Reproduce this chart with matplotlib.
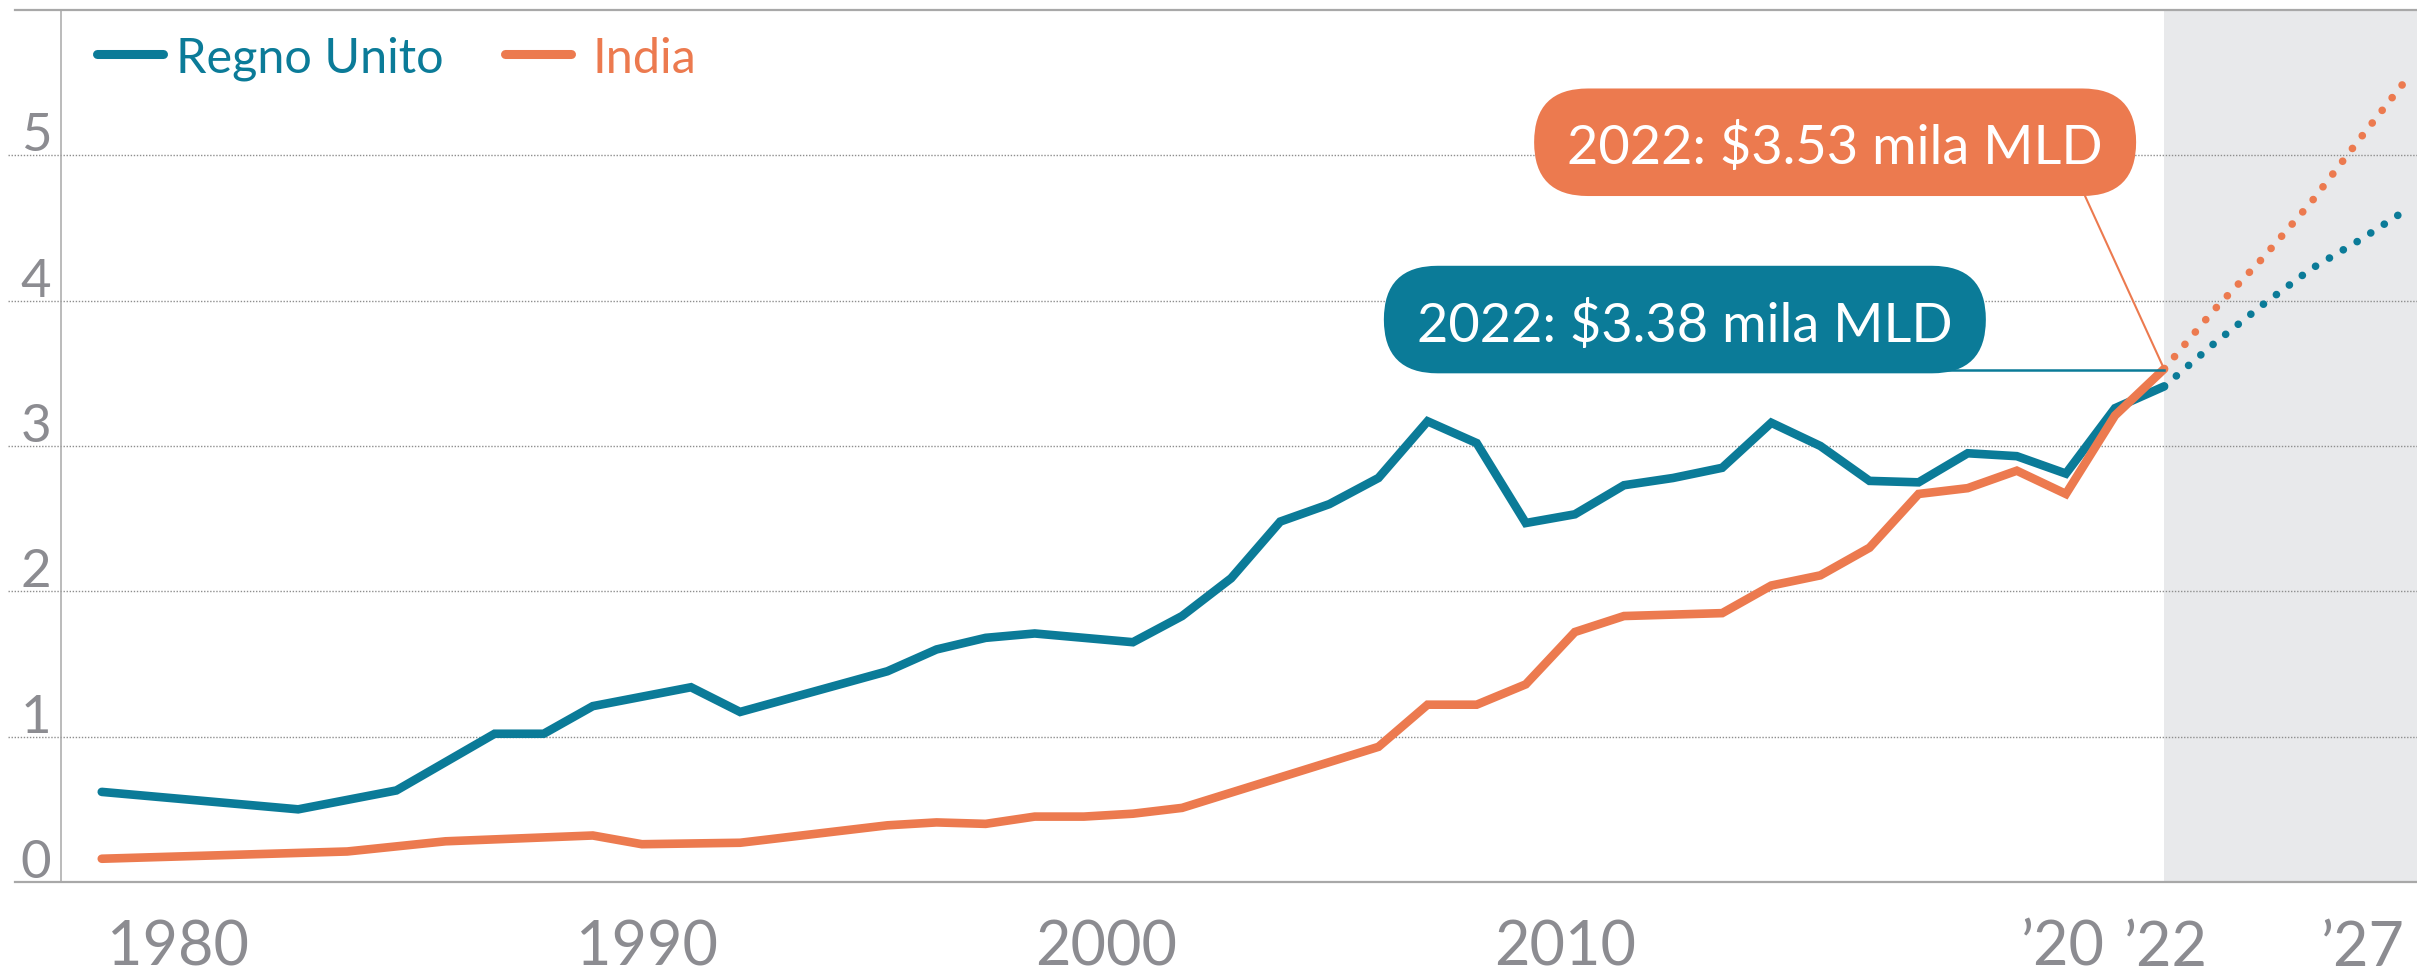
import matplotlib
matplotlib.use("Agg")
import matplotlib.pyplot as plt
import matplotlib.transforms as mtransforms
from matplotlib.patches import FancyBboxPatch
from matplotlib.lines import Line2D

plt.rcParams['font.family'] = ['Lato', 'DejaVu Sans']

# GDP, migliaia di miliardi di dollari (lettura dal grafico)
uk_years = [1980, 1984, 1986, 1988, 1989, 1990, 1992, 1993, 1996, 1997, 1998, 1999,
            2001, 2002, 2003, 2004, 2005, 2006, 2007, 2008, 2009, 2010, 2011, 2012,
            2013, 2014, 2015, 2016, 2017, 2018, 2019, 2020, 2021, 2022]
uk_gdp = [0.62, 0.50, 0.63, 1.02, 1.02, 1.21, 1.34, 1.17, 1.45, 1.60, 1.68, 1.71,
          1.65, 1.83, 2.09, 2.48, 2.60, 2.78, 3.17, 3.02, 2.47, 2.53, 2.73, 2.78,
          2.85, 3.16, 3.00, 2.76, 2.75, 2.95, 2.93, 2.81, 3.26, 3.41]

india_years = [1980, 1985, 1987, 1990, 1991, 1993, 1996, 1997, 1998, 1999, 2000, 2001,
               2002, 2006, 2007, 2008, 2009, 2010, 2011, 2013, 2014, 2015, 2016, 2017,
               2018, 2019, 2020, 2021, 2022]
india_gdp = [0.16, 0.21, 0.28, 0.32, 0.26, 0.27, 0.39, 0.41, 0.40, 0.45, 0.45, 0.47,
             0.51, 0.93, 1.22, 1.22, 1.36, 1.72, 1.83, 1.85, 2.04, 2.11, 2.30, 2.67,
             2.71, 2.83, 2.67, 3.21, 3.53]

# previsioni
fc_years = [2022, 2023, 2024, 2025, 2026, 2027]
uk_fc = [3.41, 3.70, 3.97, 4.22, 4.42, 4.64]
india_fc = [3.53, 3.93, 4.29, 4.68, 5.12, 5.55]

tick_years = [1980, 1990, 2000, 2010, 2020, 2022, 2027]
tick_labels = ['1980', '1990', '2000', '2010', '\u201920', '\u201922', '\u201927']
tick_shift = [1.55, 1.1, 0.46, -0.2, -0.06, 0.04, -0.95]

uk_label = '2022: $3.38 mila MLD'
india_label = '2022: $3.53 mila MLD'

TEAL = '#0b7b98'
ORANGE = '#ec7a4f'
GREY = '#8c8c91'
LINEGREY = '#a8a8a8'

W, H = 2417, 979
fig = plt.figure(figsize=(W / 100, H / 100), dpi=100)
ax = fig.add_axes([61 / W, (H - 883) / H, (W - 61) / W, (883 - 11) / H])
ax.set_xlim(1979.17, 2027.15)
ax.set_ylim(0, 6)
for s in ax.spines.values():
    s.set_visible(False)
ax.set_xticks([])
ax.set_yticks([])

# area previsioni
ax.axvspan(2022, 2030, color='#e8e9eb', zorder=0, lw=0)

blend = mtransforms.blended_transform_factory(ax.transAxes, ax.transData)
for v in range(1, 6):
    ax.plot([-0.0225, 1], [v, v], transform=blend, clip_on=False,
            color='#8e8e8e', lw=1.0, ls=(0, (1, 1.2)), zorder=1)
for v in (0, 6):
    ax.plot([-0.0195, 1], [v, v], transform=blend, clip_on=False,
            color=LINEGREY, lw=1.6, zorder=2)
ax.plot([0, 0], [0, 6], transform=blend, clip_on=False, color=LINEGREY, lw=1.1, zorder=2)

for v in range(0, 6):
    ax.text(-0.0106, v + 0.035, str(v), transform=blend, ha='center', va='baseline',
            fontsize=38, color=GREY)

xblend = mtransforms.blended_transform_factory(ax.transData, fig.transFigure)
for yr, lab, sh in zip(tick_years, tick_labels, tick_shift):
    ax.text(yr + sh, 2 / H, lab, transform=xblend, ha='center', va='bottom',
            fontsize=44, color=GREY, clip_on=False)

# linee storiche
ax.plot(uk_years, uk_gdp, color=TEAL, lw=6.2, solid_capstyle='round',
        solid_joinstyle='miter', zorder=4)
ax.plot(india_years, india_gdp, color=ORANGE, lw=6.2, solid_capstyle='round',
        solid_joinstyle='miter', zorder=5)

# previsioni tratteggiate
ax.plot(fc_years, uk_fc, color=TEAL, lw=5.5, ls=(0, (0.01, 2.1)),
        dash_capstyle='round', zorder=3)
ax.plot(fc_years, india_fc, color=ORANGE, lw=5.5, ls=(0, (0.01, 2.1)),
        dash_capstyle='round', zorder=3)

# etichette a pillola
bbox = ax.get_window_extent()
px_year = bbox.width / (2027.15 - 1979.17)
px_unit = bbox.height / 6
aspect = px_year / px_unit
box_w, box_h = 12.26, 0.74
r = box_h / aspect / 2

boxes = [(2009.17, 4.72, ORANGE, india_label), (2006.11, 3.50, TEAL, uk_label)]
for x0, y0, col, lab in boxes:
    p = FancyBboxPatch((x0, y0), box_w, box_h,
                       boxstyle='round,pad=0,rounding_size=%.3f' % r,
                       mutation_aspect=aspect, fc=col, ec='none', zorder=6)
    ax.add_patch(p)
    ax.text(x0 + box_w / 2, y0 + box_h / 2, lab, ha='center', va='center_baseline',
            color='white', fontsize=39, zorder=7)

ax.plot([2020.39, fc_years[0]], [4.72, india_fc[0]], color=ORANGE, lw=1.5, zorder=6)
ax.plot([2017.3, fc_years[0]], [3.52, 3.52], color=TEAL, lw=1.8, zorder=6)

# legenda
ax.add_line(Line2D([0.0153, 0.0433], [0.9495, 0.9495], transform=ax.transAxes,
                   color=TEAL, lw=6.5, solid_capstyle='round'))
ax.text(0.0488, 0.929, 'Regno Unito', transform=ax.transAxes, color=TEAL,
        fontsize=35, va='baseline', ha='left')
ax.add_line(Line2D([0.1885, 0.2165], [0.9495, 0.9495], transform=ax.transAxes,
                   color=ORANGE, lw=6.5, solid_capstyle='round'))
ax.text(0.2254, 0.929, 'India', transform=ax.transAxes, color=ORANGE,
        fontsize=35, va='baseline', ha='left')

fig.savefig('out.png', dpi=100)
